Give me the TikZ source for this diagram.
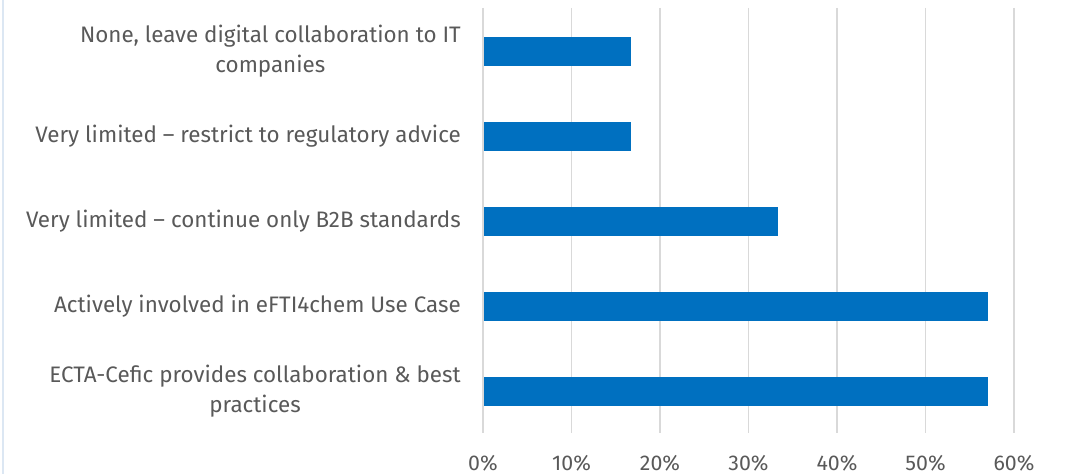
\documentclass[tikz,border=0pt]{standalone}
\usepackage{fontspec}
\setmainfont{Fira Sans}
\definecolor{barblue}{HTML}{0070C0}
\definecolor{gridgray}{HTML}{D9D9D9}
\definecolor{labelgray}{HTML}{595959}
\definecolor{frameblue}{HTML}{DCE7F3}
\begin{document}
\begin{tikzpicture}[x=0.75pt, y=-0.75pt,
		catlabel/.style={anchor=east, align=center, text=labelgray, inner sep=0pt,
			font=\fontsize{16.8}{22.5}\selectfont},
		ticklabel/.style={text=labelgray, inner sep=0pt, font=\fontsize{16}{19}\selectfont},
		gridline/.style={draw=gridgray, line width=1.2pt},
		bar/.style={fill=barblue}]
		\useasboundingbox (0,0) rectangle (1073,474);
		%\draw[help lines] (0,0) grid[step=50] (1073,474);
		
		\draw[draw=frameblue, line width=1.5pt] (3,0) -- (3,474);
		
		\foreach \k in {0,...,6}
		{
			\draw[gridline] (483+88.5*\k, 8) -- (483+88.5*\k, 433);
			\pgfmathtruncatemacro{\pc}{10*\k}
			\node[ticklabel] (t\k) at (483+88.5*\k, 463) {\pc\%};
		}
		
		\foreach \n\v\y\s in {1/16.7/51.5/{None, leave digital collaboration to IT\\companies},
			2/16.7/136.5/{Very limited -- restrict to regulatory advice},
			3/33.3/221.5/{Very limited -- continue only B2B standards},
			4/57.1/306.5/{Actively involved in eFTI4chem Use Case},
			5/57.1/391/{ECTA-Cefic provides collaboration \& best\\practices}}
		{
			\fill[bar] (484, \y-14.5) rectangle (483+8.85*\v, \y+14.5);
			\node[catlabel] (c\n) at (461, \y) {\s};
		}
	\end{tikzpicture}
\end{document}
